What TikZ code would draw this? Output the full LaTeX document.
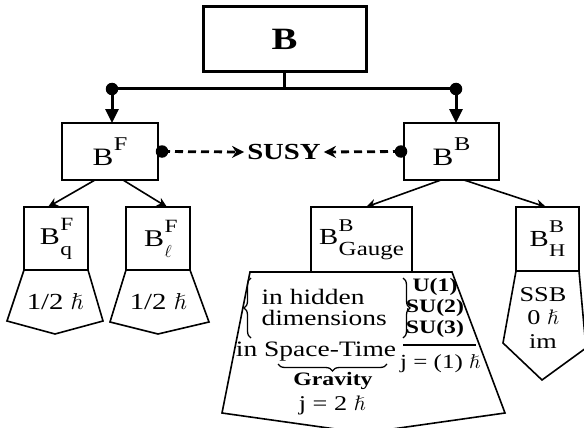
\documentclass[tikz,border=0pt]{standalone}
\usepackage{fontspec}
\setmainfont{Liberation Serif}[FakeStretch=1.25]
\usepackage{amsmath,amssymb}
\usetikzlibrary{arrows.meta,decorations.pathreplacing}
\newcommand{\fs}[2]{\fontsize{#1}{#2}\selectfont}
\makeatletter
\newcommand{\indexfont}{\fontsize{\fpeval{0.78*\f@size}}{\fpeval{0.78*\f@size}}\selectfont}
\makeatother
\newcommand{\hb}{$\hslash$}
\newcommand{\bsup}[1]{B\kern.5pt\raisebox{.62em}{\indexfont #1}}
\newcommand{\bsym}[2]{B\kern.5pt\rlap{\raisebox{.6em}{\indexfont #1}}\raisebox{-.45em}{\indexfont #2}}
\newcommand{\spinpent}[5]{\draw[pent] #1--#2--#3--#4--#5--cycle;}
\tikzset{
  box/.style={draw,line width=2.2pt,inner sep=0pt,outer sep=0pt},
  junction/.style={circle,fill,inner sep=0pt,minimum size=12.5pt},
  feed/.style={line width=3pt,-{Triangle[length=14pt,width=13pt]}},
  split/.style={line width=1.6pt,-{Stealth[length=10pt,width=9pt]}},
  susyarrow/.style={line width=2.8pt,dash pattern=on 8pt off 5pt,-{Stealth[length=12pt,width=12pt,inset=4pt]}},
  pent/.style={line width=1.6pt,line join=miter},
  bracebar/.style={decorate,decoration={brace,amplitude=7pt},line width=1.3pt},
}

\begin{document}
\begin{tikzpicture}[x=1pt,y=-1pt]
\useasboundingbox (0,0) rectangle (584,428);
% boxes
\node[box,line width=3pt,minimum width=163pt,minimum height=65pt,font=\fs{31}{31}\bfseries] (top) at (284.5,39.5) {B};
\node[box,minimum width=96pt,minimum height=57pt,font=\fs{25}{25}] (bf) at (110,151.5) {\bsup{F}};
\node[box,minimum width=95pt,minimum height=57pt,font=\fs{25}{25}] (bb) at (451.5,151.5) {\bsup{B}};
\node[box,minimum width=64pt,minimum height=63pt,font=\fs{24}{24}] (bq) at (56,238.5) {\bsym{F}{q}};
\node[box,minimum width=64pt,minimum height=63pt,font=\fs{24}{24}] (bl) at (158,238.5) {\bsym{F}{$\ell$}};
\node[box,minimum width=101pt,minimum height=65pt,font=\fs{23}{23}] (bg) at (361.5,239.5) {\bsym{B}{\fs{20}{20}Gauge}};
\node[box,minimum width=63pt,minimum height=64pt,font=\fs{23}{23}] (bh) at (547.5,239) {\bsym{B}{H}};
\node[font=\fs{23}{23}\bfseries,inner sep=3pt] (susy) at (284,152) {SUSY};

% tree
\node[junction] (jf) at (112,89) {};
\node[junction] (jb) at (456,89) {};
\draw[line width=3pt] (top.south) -- (top.south |- jf);
\draw[line width=3pt] (jf.center) -- (jb.center);
\draw[feed] (jf.center) -- (jf |- bf.north);
\draw[feed] (jb.center) -- (jb |- bb.north);

\node[junction] (sf) at ([xshift=4pt]bf.east) {};
\node[junction] (sb) at ([xshift=-3pt]bb.west) {};
\draw[susyarrow] (sf.center) -- (susy.west);
\draw[susyarrow] (sb.center) -- (susy.east);

\draw[split] ([xshift=-15pt]bf.south) -- ([xshift=-8pt]bq.north);
\draw[split] ([xshift=13pt]bf.south) -- ([xshift=9pt]bl.north);
\draw[split] ([xshift=-10.5pt]bb.south) -- ([xshift=4.5pt]bg.north);
\draw[split] ([xshift=12.5pt]bb.south) -- ([xshift=-1.5pt]bh.north);

% spin pentagons
\spinpent{(24,270)}{(88,270)}{(103,321)}{(55,334)}{(7,321)}
\spinpent{(126,270)}{(190,270)}{(209,322)}{(158,334)}{(110,322)}
\spinpent{(250,272)}{(452,272)}{(505,413)}{(364,433)}{(222,413)}
\spinpent{(516,271)}{(579,271)}{(586,348)}{(542,380)}{(503,343)}

\node[font=\fs{23}{23}] (spinq) at (55,302) {1/2 \hb};
\node[font=\fs{23}{23}] (spinl) at (158,302) {1/2 \hb};
\node[font=\fs{21}{23.5},align=center] (ssb) at (543,318) {SSB\\0 \hb\\im};

\node[font=\fs{22}{21},align=left,anchor=west] (hidden) at (258,307.5) {in hidden\\dimensions};
\draw[bracebar] (251,338) -- (251,278);
\node[font=\fs{19}{21}\bfseries,align=center] (groups) at (435,308) {U(1)\\SU(2)\\SU(3)};
\draw[bracebar] (403,278) -- (403,338);
\draw[line width=1.3pt] (403,345) -- (476,345);
\node[font=\fs{20}{20}] (jone) at (440,364) {j = (1) \hb};
\node[font=\fs{22}{22}] (spacetime) at (316,352) {in Space-Time};
\draw[bracebar] (387,364) -- (278,364);
\node[font=\fs{19}{19}\bfseries] (gravity) at (333,381) {Gravity};
\node[font=\fs{21}{21}] (jtwo) at (332,405) {j = 2 \hb};
\end{tikzpicture}
\end{document}
